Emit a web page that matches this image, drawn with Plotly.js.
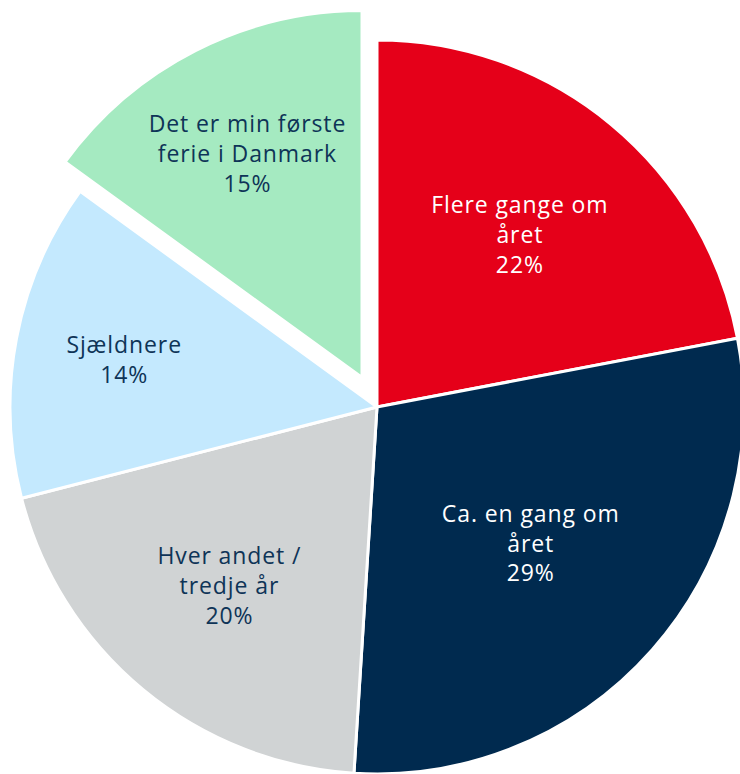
<!DOCTYPE html>
<html>
<head>
<meta charset="utf-8">
<script src="https://cdn.plot.ly/plotly-3.0.1.min.js"></script>
<style>
html,body{margin:0;padding:0;overflow:hidden;width:740px;height:774px;background:#fff;}
#chart{position:absolute;left:-23px;top:7px;width:800px;height:800px;}
#chart .slicetext text{letter-spacing:0.9px;}
</style>
</head>
<body>
<div id="chart"></div>
<script>
const categories = ["Flere gange om<br>året", "Ca. en gang om<br>året", "Hver andet /<br>tredje år", "Sjældnere", "Det er min første<br>ferie i Danmark"];
const values = [22, 29, 20, 14, 15];
const colors = ["#E50019", "#002A4F", "#D0D3D4", "#C4E9FE", "#A5EAC1"];
const textColors = ["#FFFFFF", "#FFFFFF", "#0E3457", "#0E3457", "#0E3457"];
const pulls = [0, 0, 0, 0, 0.09];

Plotly.newPlot("chart", [{
  type: "pie",
  labels: categories,
  values: values,
  sort: false,
  direction: "clockwise",
  rotation: 0,
  pull: pulls,
  marker: {colors: colors, line: {color: "#FFFFFF", width: 3}},
  texttemplate: "%{label}<br>%{value}%",
  textposition: "inside",
  insidetextorientation: "horizontal",
  insidetextfont: {family: "Open Sans", size: 23, color: textColors},
  hoverinfo: "none",
  showlegend: false
}], {
  width: 800, height: 800,
  margin: {l: 0, r: 0, t: 0, b: 0},
  paper_bgcolor: "#FFFFFF",
  uniformtext: {mode: "show", minsize: 23},
  showlegend: false
}, {staticPlot: true});
</script>
</body>
</html>
